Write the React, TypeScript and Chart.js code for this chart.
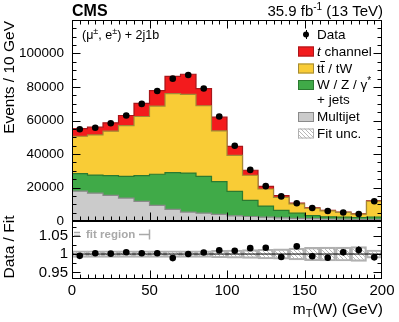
import React, { useEffect, useRef } from 'react';
import { Chart, registerables } from 'chart.js';
Chart.register(...registerables);

const FONT = "'Liberation Sans', Arial, Helvetica, sans-serif";

// bin edges of m_T(W) histogram (GeV)
const BIN_EDGES = [0, 10, 20, 30, 40, 50, 60, 70, 80, 90, 100, 110, 120, 130, 140, 150, 160, 170, 180, 190, 200];
// stacked components (events / 10 GeV), bottom to top
const MULTIJET = [17800, 16600, 15300, 13700, 11700, 9300, 6900, 5300, 4700, 3900, 3100, 2700, 2300, 1900, 1600, 1400, 1200, 1100, 1000, 1000];
const WJETS = [10500, 10800, 11800, 13000, 15400, 18600, 22000, 23300, 22000, 19600, 14600, 9600, 6600, 4400, 3100, 1800, 1300, 1200, 1100, 1400];
const TTBAR = [22300, 24000, 26500, 30300, 35300, 40700, 47100, 47000, 42100, 30300, 21500, 15000, 10200, 7800, 5500, 4400, 3600, 2800, 2000, 9400];
const TCHAN = [4600, 4600, 5000, 6000, 7800, 9200, 10400, 12000, 10200, 8200, 5400, 3000, 1600, 1000, 500, 300, 200, 200, 200, 300];
// observed data
const DATA = [54800, 55700, 58400, 63000, 69900, 77600, 85000, 87200, 79100, 62400, 44900, 30500, 20800, 14700, 10600, 7750, 6000, 5100, 4200, 11800];
// ratio panel
const RATIO = [0.995, 1.002, 1.001, 1.005, 1.002, 1.002, 0.989, 1.0, 1.004, 1.01, 1.009, 1.016, 1.017, 0.992, 1.021, 0.994, 0.99, 1.005, 1.011, 0.991];
const RATIO_ERR = [0.002, 0.002, 0.002, 0.002, 0.002, 0.002, 0.002, 0.002, 0.002, 0.002, 0.003, 0.003, 0.004, 0.005, 0.006, 0.007, 0.009, 0.009, 0.01, 0.005];
const FIT_UNC = [0.009, 0.009, 0.009, 0.009, 0.009, 0.009, 0.009, 0.009, 0.009, 0.01, 0.011, 0.012, 0.013, 0.014, 0.016, 0.018, 0.019, 0.019, 0.02, 0.011];
// axis ticks
const Y_TICKS = [0, 20000, 40000, 60000, 80000, 100000];
const X_TICKS = [0, 50, 100, 150, 200];
const R_TICKS = [0.95, 1, 1.05];

const RED = '#f31b1d', RED_EDGE = '#a8161a';
const YELLOW = '#f9cc36', YELLOW_EDGE = '#a28a36';
const GREEN = '#40aa48', GREEN_EDGE = '#2b7a30';
const GRAY = '#cbcbcb', GRAY_EDGE = '#8a8a8a';
const HATCH_EDGE = '#b0b0b0';

const CENTERS = BIN_EDGES.slice(0, -1).map((e, i) => (e + BIN_EDGES[i + 1]) / 2);

function cumulative(...arrs: number[][]) {
  return arrs[0].map((_, i) => arrs.reduce((s, a) => s + a[i], 0));
}
// one point per bin edge; value i holds from edge i to edge i+1
function stepData(values: number[]) {
  return BIN_EDGES.map((e, i) => ({ x: e, y: values[Math.min(i, values.length - 1)] }));
}

function makeHatch() {
  const c = document.createElement('canvas');
  c.width = 4; c.height = 4;
  const g = c.getContext('2d')!;
  g.strokeStyle = '#b8b8b8';
  g.lineWidth = 1;
  g.beginPath();
  g.moveTo(0, 0); g.lineTo(4, 4);
  g.moveTo(-2, 2); g.lineTo(2, 6);
  g.moveTo(2, -2); g.lineTo(6, 2);
  g.stroke();
  return g.createPattern(c, 'repeat')!;
}

type FrameOpts = {
  id: string; xMinor: number; xMajor: number; yMinor: number; yMajor: number;
  majorLen: number; minorLen: number; top: boolean;
};
function framePlugin(o: FrameOpts) {
  return {
    id: o.id,
    afterDraw(chart: any) {
      const { ctx, chartArea: a } = chart;
      const xs = chart.scales.x, ys = chart.scales.y;
      const L = Math.round(a.left) + 0.5, R = Math.round(a.right) - 0.5;
      const T = Math.round(a.top) + 0.5, B = Math.round(a.bottom) - 0.5;
      ctx.save();
      ctx.strokeStyle = '#000';
      ctx.lineWidth = 1;
      ctx.strokeRect(L, T, R - L, B - T);
      ctx.beginPath();
      const isMajor = (v: number, m: number) => Math.abs(v / m - Math.round(v / m)) < 1e-6;
      for (let k = Math.ceil(xs.min / o.xMinor - 1e-9); k * o.xMinor <= xs.max + 1e-9; k++) {
        const v = k * o.xMinor;
        const len = isMajor(v, o.xMajor) ? o.majorLen : o.minorLen;
        let px = Math.round(xs.getPixelForValue(v)) + 0.5;
        px = Math.min(Math.max(px, L), R);
        ctx.moveTo(px, B); ctx.lineTo(px, B - len);
        if (o.top) { ctx.moveTo(px, T); ctx.lineTo(px, T + len); }
      }
      for (let k = Math.ceil(ys.min / o.yMinor - 1e-9); k * o.yMinor <= ys.max + 1e-9; k++) {
        const v = k * o.yMinor;
        const len = isMajor(v, o.yMajor) ? o.majorLen : o.minorLen;
        let py = Math.round(ys.getPixelForValue(v)) + 0.5;
        py = Math.min(Math.max(py, T), B);
        ctx.moveTo(L, py); ctx.lineTo(L + len, py);
        ctx.moveTo(R, py); ctx.lineTo(R - len, py);
      }
      ctx.stroke();
      ctx.restore();
    },
  };
}

type Piece = { t: string; font: string; dy?: number };
function drawPieces(ctx: CanvasRenderingContext2D, x: number, y: number, pieces: Piece[], align: 'left' | 'right' = 'left') {
  let total = 0;
  for (const p of pieces) { ctx.font = p.font; total += ctx.measureText(p.t).width; }
  let cx = align === 'left' ? x : x - total;
  ctx.textAlign = 'left';
  const xs: number[] = [];
  for (const p of pieces) {
    ctx.font = p.font;
    xs.push(cx);
    ctx.fillText(p.t, cx, y + (p.dy || 0));
    cx += ctx.measureText(p.t).width;
  }
  return xs;
}

const mainText = {
  id: 'mainText',
  afterDraw(chart: any) {
    const ctx: CanvasRenderingContext2D = chart.ctx;
    ctx.save();
    ctx.fillStyle = '#000';
    ctx.textBaseline = 'alphabetic';
    ctx.font = `bold 16px ${FONT}`;
    ctx.textAlign = 'left';
    ctx.fillText('CMS', 72, 16);
    const f15 = `15px ${FONT}`, f10 = `10px ${FONT}`;
    drawPieces(ctx, 383, 16, [
      { t: '35.9 fb', font: f15 }, { t: '-1', font: f10, dy: -6 }, { t: ' (13 TeV)', font: f15 },
    ], 'right');
    const f12 = `12.5px ${FONT}`, f9 = `9px ${FONT}`;
    drawPieces(ctx, 82, 39, [
      { t: '(\u03bc', font: f12 }, { t: '\u00b1', font: f9, dy: -5 }, { t: ', e', font: f12 },
      { t: '\u00b1', font: f9, dy: -5 }, { t: ') + 2j1b', font: f12 },
    ]);

    // y title
    ctx.save();
    ctx.translate(10, 21);
    ctx.rotate(-Math.PI / 2);
    ctx.font = `15.5px ${FONT}`;
    ctx.textAlign = 'right';
    ctx.textBaseline = 'middle';
    ctx.fillText('Events / 10 GeV', 0, 0);
    ctx.restore();

    // legend
    const TX = 317, BX = 298, BW = 16, BH = 10;
    const f13 = `13.5px ${FONT}`;
    ctx.textBaseline = 'middle';
    ctx.beginPath(); ctx.arc(306, 34.5, 3, 0, Math.PI * 2); ctx.fill();
    ctx.strokeStyle = '#000'; ctx.lineWidth = 1;
    ctx.beginPath(); ctx.moveTo(306.5, 30); ctx.lineTo(306.5, 39); ctx.stroke();
    ctx.font = f13; ctx.textAlign = 'left';
    ctx.fillText('Data', TX, 35);
    const box = (yc: number, fill: any, edge: string) => {
      ctx.fillStyle = fill;
      ctx.fillRect(BX, yc - BH / 2, BW, BH);
      ctx.strokeStyle = edge; ctx.lineWidth = 1;
      ctx.strokeRect(BX + 0.5, yc - BH / 2 + 0.5, BW - 1, BH - 1);
      ctx.fillStyle = '#000';
    };
    box(51.5, RED, RED_EDGE);
    drawPieces(ctx, TX, 52, [{ t: 't', font: `italic 13.5px ${FONT}` }, { t: ' channel', font: f13 }]);
    box(68.5, YELLOW, YELLOW_EDGE);
    const xs = drawPieces(ctx, TX, 69, [{ t: 't', font: f13 }, { t: 't', font: f13 }, { t: ' / tW', font: f13 }]);
    ctx.font = f13;
    const tw = ctx.measureText('t').width;
    ctx.strokeStyle = '#000'; ctx.lineWidth = 1;
    ctx.beginPath(); ctx.moveTo(xs[1] - 0.5, 61.5); ctx.lineTo(xs[1] + tw + 0.5, 61.5); ctx.stroke();
    box(85, GREEN, GREEN_EDGE);
    drawPieces(ctx, TX, 85.5, [{ t: 'W / Z / \u03b3', font: f13 }, { t: '*', font: `10px ${FONT}`, dy: -4 }]);
    ctx.font = f13; ctx.textAlign = 'left';
    ctx.fillText('+ jets', TX, 100);
    box(117, GRAY, GRAY_EDGE);
    ctx.font = f13; ctx.fillText('Multijet', TX, 117.5);
    box(133.5, (chart as any).$hatch, HATCH_EDGE);
    ctx.font = f13; ctx.fillText('Fit unc.', TX, 134);
    ctx.restore();
  },
};

const ratioText = {
  id: 'ratioText',
  afterDraw(chart: any) {
    const ctx: CanvasRenderingContext2D = chart.ctx;
    ctx.save();
    ctx.fillStyle = '#000';
    ctx.save();
    ctx.translate(10, 247);
    ctx.rotate(-Math.PI / 2);
    ctx.font = `15.5px ${FONT}`;
    ctx.textAlign = 'center';
    ctx.textBaseline = 'middle';
    ctx.fillText('Data / Fit', 0, 0);
    ctx.restore();
    ctx.textBaseline = 'alphabetic';
    drawPieces(ctx, 383, 314, [
      { t: 'm', font: `15.5px ${FONT}` }, { t: 'T', font: `11px ${FONT}`, dy: 3 }, { t: '(W) (GeV)', font: `15.5px ${FONT}` },
    ], 'right');
    const gray = '#a9a9a9';
    ctx.fillStyle = gray; ctx.strokeStyle = gray; ctx.lineWidth = 1.5;
    ctx.font = `bold 11.5px ${FONT}`;
    ctx.textBaseline = 'middle';
    ctx.textAlign = 'left';
    ctx.fillText('fit region', 86, 234.5);
    ctx.beginPath();
    ctx.moveTo(74, 232.5); ctx.lineTo(80, 232.5);
    ctx.moveTo(74, 235.5); ctx.lineTo(80, 235.5);
    ctx.moveTo(139, 234.5); ctx.lineTo(149, 234.5);
    ctx.moveTo(149.5, 229.5); ctx.lineTo(149.5, 239.5);
    ctx.stroke();
    ctx.restore();
  },
};

const errorBars = {
  id: 'errorBars',
  afterDatasetsDraw(chart: any) {
    const { ctx } = chart;
    const xs = chart.scales.x, ys = chart.scales.y;
    ctx.save();
    ctx.strokeStyle = '#000'; ctx.lineWidth = 1.2;
    ctx.beginPath();
    RATIO.forEach((r, i) => {
      const px = xs.getPixelForValue(CENTERS[i]);
      ctx.moveTo(px, ys.getPixelForValue(r - RATIO_ERR[i]));
      ctx.lineTo(px, ys.getPixelForValue(r + RATIO_ERR[i]));
    });
    ctx.stroke();
    ctx.restore();
  },
};

export default function App() {
  const mainRef = useRef<HTMLCanvasElement>(null);
  const ratioRef = useRef<HTMLCanvasElement>(null);

  useEffect(() => {
    const hatch = makeHatch();
    const c1 = cumulative(MULTIJET);
    const c2 = cumulative(MULTIJET, WJETS);
    const c3 = cumulative(MULTIJET, WJETS, TTBAR);
    const c4 = cumulative(MULTIJET, WJETS, TTBAR, TCHAN);
    const layer = (vals: number[], bg: string, edge: string, order: number) => ({
      type: 'line', data: stepData(vals), stepped: 'before', fill: 'origin',
      backgroundColor: bg, borderColor: edge, borderWidth: 1.2, pointRadius: 0, order,
    });
    const tickFont = (size: number) => ({ family: FONT, size });

    const main = new Chart(mainRef.current!, {
      type: 'line',
      data: {
        datasets: [
          {
            type: 'line', data: DATA.map((v, i) => ({ x: CENTERS[i], y: v })), showLine: false,
            pointRadius: 3.3, pointBackgroundColor: '#000', pointBorderColor: '#000', pointBorderWidth: 0, order: 0,
          },
          layer(c1, GRAY, GRAY_EDGE, 1),
          layer(c2, GREEN, GREEN_EDGE, 2),
          layer(c3, YELLOW, YELLOW_EDGE, 3),
          layer(c4, RED, RED_EDGE, 4),
        ] as any,
      },
      options: {
        animation: false, responsive: false, devicePixelRatio: 1,
        layout: { padding: { left: 0, right: 17, top: 20, bottom: 101 } },
        plugins: { legend: { display: false }, tooltip: { enabled: false } },
        scales: {
          x: { type: 'linear', min: 0, max: 200, display: false, offset: false },
          y: {
            type: 'linear', min: 0, max: 120000,
            grid: { display: false, drawTicks: false }, border: { display: false },
            afterBuildTicks: (s: any) => { s.ticks = Y_TICKS.map((v) => ({ value: v })); },
            afterFit: (s: any) => { s.width = 72; },
            ticks: { padding: 8, color: '#000', font: tickFont(13.5), callback: (v: any) => String(v) },
          },
        },
      } as any,
      plugins: [
        framePlugin({ id: 'frameMain', xMinor: 5, xMajor: 50, yMinor: 5000, yMajor: 20000, majorLen: 8, minorLen: 4, top: true }),
        mainText,
      ],
    });
    (main as any).$hatch = hatch;
    main.draw();

    const ratio = new Chart(ratioRef.current!, {
      type: 'line',
      data: {
        datasets: [
          {
            type: 'line', data: RATIO.map((v, i) => ({ x: CENTERS[i], y: v })), showLine: false,
            pointRadius: 3.3, pointBackgroundColor: '#000', pointBorderColor: '#000', pointBorderWidth: 0, order: 0,
          },
          {
            type: 'line', data: [{ x: BIN_EDGES[0], y: 1 }, { x: BIN_EDGES[BIN_EDGES.length - 1], y: 1 }],
            borderColor: '#000', borderWidth: 1, pointRadius: 0, order: 1,
          },
          {
            type: 'bar', data: FIT_UNC.map((u, i) => ({ x: CENTERS[i], y: [1 - u, 1 + u] })),
            backgroundColor: hatch, borderColor: HATCH_EDGE, borderWidth: 1.5, borderSkipped: false,
            barPercentage: 1, categoryPercentage: 1, order: 2,
          },
        ] as any,
      },
      options: {
        animation: false, responsive: false, devicePixelRatio: 1,
        layout: { padding: { left: 0, right: 17, top: 221, bottom: 0 } },
        plugins: { legend: { display: false }, tooltip: { enabled: false } },
        scales: {
          x: {
            type: 'linear', min: 0, max: 200, offset: false,
            grid: { display: false, drawTicks: false }, border: { display: false },
            afterBuildTicks: (s: any) => { s.ticks = X_TICKS.map((v) => ({ value: v })); },
            afterFit: (s: any) => { s.height = 43; },
            ticks: { padding: 3, color: '#000', font: tickFont(15), maxRotation: 0, autoSkip: false, callback: (v: any) => String(v) },
          },
          y: {
            type: 'linear', min: 0.932, max: 1.09,
            grid: { display: false, drawTicks: false }, border: { display: false },
            afterBuildTicks: (s: any) => { s.ticks = R_TICKS.map((v) => ({ value: v })); },
            afterFit: (s: any) => { s.width = 72; },
            ticks: { padding: 4, color: '#000', font: tickFont(15), callback: (v: any) => String(v) },
          },
        },
      } as any,
      plugins: [
        framePlugin({ id: 'frameRatio', xMinor: 5, xMajor: 50, yMinor: 0.025, yMajor: 0.05, majorLen: 8, minorLen: 4, top: false }),
        errorBars,
        ratioText,
      ],
    });

    return () => { main.destroy(); ratio.destroy(); };
  }, []);

  return (
    <div style={{ position: 'absolute', left: 0, top: 0, width: 399, height: 322 }}>
      <canvas ref={mainRef} width={399} height={322} style={{ position: 'absolute', left: 0, top: 0, width: 399, height: 322 }} />
      <canvas ref={ratioRef} width={399} height={322} style={{ position: 'absolute', left: 0, top: 0, width: 399, height: 322 }} />
    </div>
  );
}
